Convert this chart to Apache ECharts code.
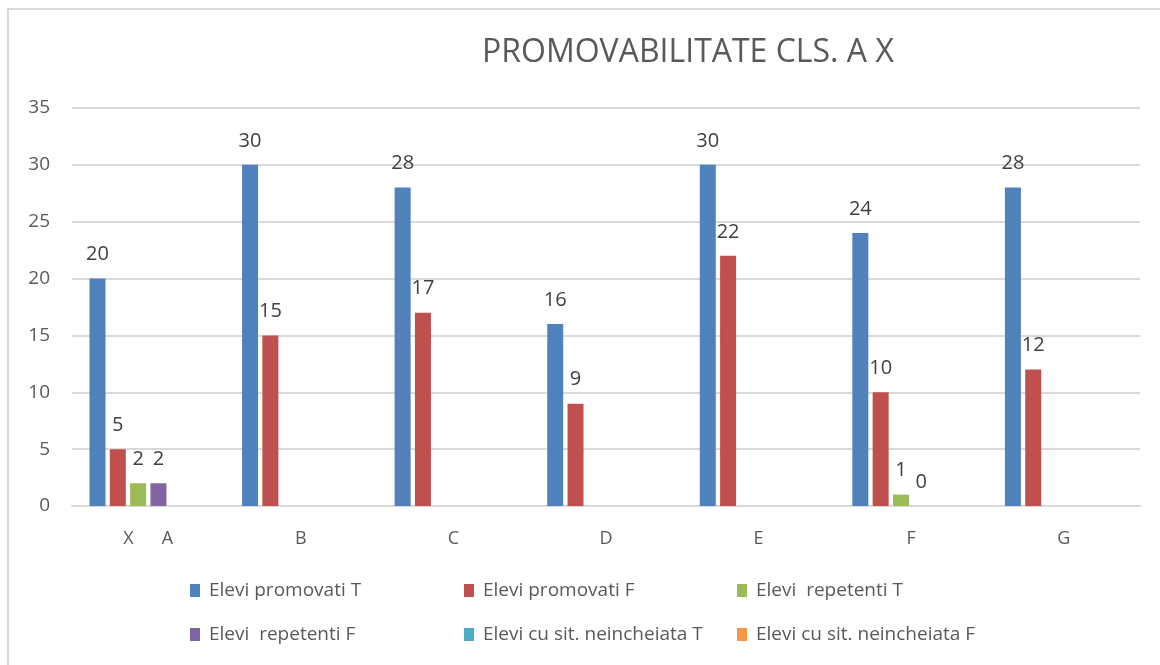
<!DOCTYPE html>
<html>
<head>
<meta charset="utf-8">
<script src="https://cdn.jsdelivr.net/npm/echarts@6/dist/echarts.min.js"></script>
<style>html,body{margin:0;padding:0;background:#fff;}#c{width:1160px;height:665px;}</style>
</head>
<body>
<div id="c"></div>
<script>
const categories = ["X      A", "B", "C", "D", "E", "F", "G"];
const seriesNames = ["Elevi promovati T", "Elevi promovati F", "Elevi  repetenti T", "Elevi  repetenti F", "Elevi cu sit. neincheiata T", "Elevi cu sit. neincheiata F"];
const promovatiT = [20, 30, 28, 16, 30, 24, 28];
const promovatiF = [5, 15, 17, 9, 22, 10, 12];
const repetentiT = [2, null, null, null, null, 1, null];
const repetentiF = [2, null, null, null, null, 0, null];
const neincheiataT = [null, null, null, null, null, null, null];
const neincheiataF = [null, null, null, null, null, null, null];
const yTicks = [0, 5, 10, 15, 20, 25, 30, 35];
const colors = ["#4F81BD", "#C0504D", "#9BBB59", "#8064A2", "#4BACC6", "#F79646"];
const values = [promovatiT, promovatiF, repetentiT, repetentiF, neincheiataT, neincheiataF];

const FONT = "Open Sans";
const chart = echarts.init(document.getElementById('c'), null, {renderer: 'canvas'});

const legendPos = [[190, 581], [464, 581], [737, 581], [190, 625], [464, 625], [737, 625]];
const legends = seriesNames.map((n, i) => ({
  data: [n], left: legendPos[i][0], top: legendPos[i][1],
  itemWidth: 10, itemHeight: 13, itemGap: 0, padding: 0,
  icon: 'rect',
  textStyle: {color: '#595959', fontSize: 19, fontFamily: FONT, padding: [0, 0, 0, 4]},
  selectedMode: false
}));

chart.setOption({
  animation: false,
  color: colors,
  title: {
    text: "PROMOVABILITATE CLS. A X",
    left: 477, top: 32,
    textStyle: {color: '#595959', fontSize: 32, fontWeight: 'normal', fontFamily: FONT}
  },
  graphic: [{type: 'rect', shape: {x: 8, y: 9, width: 1170, height: 680}, style: {fill: 'none', stroke: '#d9d9d9', lineWidth: 2}, silent: true, z: -1}],
  legend: legends,
  grid: {left: 72, right: 20, top: 108, bottom: 159, containLabel: false},
  xAxis: {
    type: 'category', data: categories,
    axisLine: {show: true, lineStyle: {color: '#d9d9d9', width: 2}},
    axisTick: {show: false},
    axisLabel: {color: '#595959', fontSize: 18, fontFamily: FONT, margin: 24}
  },
  yAxis: {
    type: 'value', min: 0, max: 35, interval: 5,
    axisLine: {show: false}, axisTick: {show: false},
    splitLine: {lineStyle: {color: '#d9d9d9', width: 2}},
    axisLabel: {color: '#595959', fontSize: 19, fontFamily: FONT, margin: 22,
      formatter: v => yTicks.includes(v) ? String(v) : ''}
  },
  series: values.map((d, i) => ({
    name: seriesNames[i], type: 'bar', data: d,
    barWidth: 16, barGap: '27%',
    itemStyle: {color: colors[i]},
    label: {show: true, position: 'top', distance: 14, color: '#404040', fontSize: 20, fontFamily: FONT}
  }))
});
</script>
</body>
</html>
